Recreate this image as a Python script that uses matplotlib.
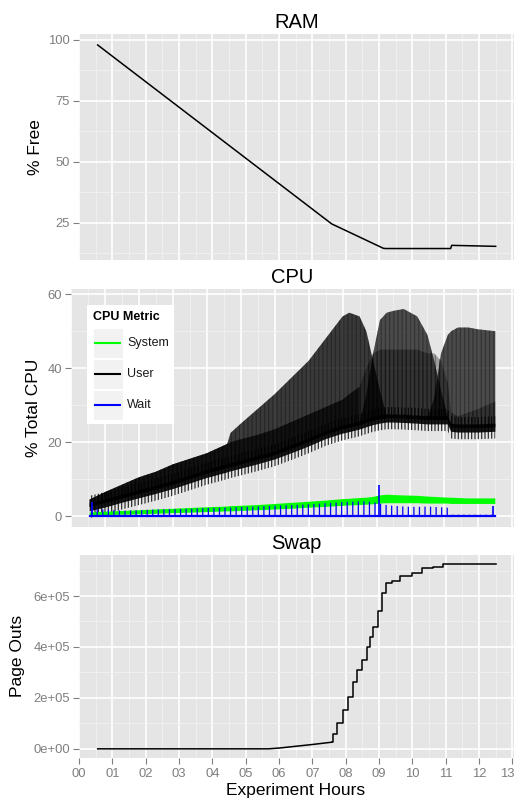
import numpy as np
import matplotlib.pyplot as plt
from matplotlib.patches import Rectangle
from matplotlib.lines import Line2D
from matplotlib.transforms import ScaledTranslation

plt.rcParams['font.family'] = ['Liberation Sans', 'DejaVu Sans']
plt.rcParams['hatch.linewidth'] = 0.9

# ---------------- data ----------------
hour_ticks = list(range(0, 14))
hour_labels = ["%02d" % h for h in hour_ticks]

# RAM: % free
ram_hours = [0.56, 7.58, 9.13, 9.2, 11.15, 11.18, 12.5]
ram_free = [97.9, 24.6, 14.6, 14.5, 14.5, 15.8, 15.4]

# Swap: page outs
swap_hours = [0.56, 5.68, 6.0, 6.5, 7.0, 7.58, 7.63, 7.73, 7.93, 8.08, 8.23,
              8.33, 8.48, 8.63, 8.73, 8.83, 8.98, 9.08, 9.21, 9.38, 9.63,
              9.98, 10.28, 10.63, 10.93, 12.5]
swap_pageouts = [0, 0, 0.03e5, 0.1e5, 0.17e5, 0.26e5, 0.6e5, 1.0e5, 1.53e5,
                 2.05e5, 2.64e5, 3.1e5, 3.5e5, 4.0e5, 4.4e5, 4.8e5, 5.4e5,
                 6.1e5, 6.5e5, 6.6e5, 6.8e5, 6.9e5, 7.1e5, 7.15e5, 7.25e5,
                 7.25e5]
swap_step_start = 5  # stair-like from 7.58 h on

# CPU: envelopes of the (very dense) traces
nan = np.nan
cpu_hours = [0.55, 1.0, 1.5, 2.0, 2.5, 3.0, 3.5, 4.0, 4.6, 4.7, 5.0, 5.5,
             6.0, 6.5, 7.0, 7.5, 8.0, 8.2, 8.5, 8.7, 8.9, 9.1, 9.3, 9.5,
             9.8, 10.2, 10.5, 10.7, 10.9, 11.1, 11.2, 11.4, 11.7, 12.0, 12.5]
user_core = [2.5, 3.5, 4.8, 6.0, 7.2, 8.5, 10.0, 11.5, 13.0, 13.3, 14.0, 15.2,
             16.5, 18.2, 20.0, 22.0, 23.5, 23.9, 24.6, 25.2, 25.8, 26.2, 26.5,
             26.5, 26.4, 26.2, 26.0, 26.0, 26.0, 26.0, 24.0, 23.8, 23.8, 23.8,
             24.0]
user_peak_a = [4.5, 6.5, 8.5, 10.5, 12.0, 14.0, 15.5, 17.0, 19.5, 22.5, 25.0,
               29.0, 33.0, 37.5, 42.0, 48.0, 54.0, 55.0, 54.0, 50.0, 42.0,
               34.0, 27.0, nan, nan, nan, nan, nan, nan, nan, nan, nan, nan,
               nan, nan]
user_peak_b = [nan, nan, nan, nan, nan, nan, nan, nan, nan, nan, nan, nan,
               nan, nan, nan, nan, nan, nan, 25.0, 33.0, 44.0, 53.0, 55.0,
               55.5, 56.0, 54.0, 49.0, 42.0, 34.0, 27.0, 24.5, nan, nan, nan,
               nan]
user_peak_c = [nan, nan, nan, nan, nan, nan, nan, nan, nan, nan, nan, nan,
               nan, nan, nan, nan, nan, nan, nan, nan, nan, nan, nan, nan,
               nan, nan, 26.5, 32.0, 44.0, 49.0, 50.0, 51.0, 51.0, 50.5, 50.0]
user_low_d = [4.5, 6.5, 8.5, 10.5, 12.0, 14.0, 15.5, 17.0, 19.5, 20.0, 20.8,
              22.0, 23.5, 25.5, 27.5, 29.5, 31.5, 33.0, 35.0, nan, nan, nan,
              nan, nan, nan, nan, nan, nan, nan, nan, nan, nan, nan, nan, nan]
user_faint = [nan, nan, nan, nan, nan, nan, nan, nan, nan, nan, nan, nan,
              nan, nan, nan, nan, nan, nan, 35.0, 40.0, 44.0, 45.0, 45.0,
              45.0, 45.0, 45.0, 44.0, 44.0, 42.0, 36.0, 28.0, 27.0, 28.0,
              29.0, 31.0]
sys_low = [0.2, 0.3, 0.4, 0.5, 0.65, 0.8, 0.95, 1.1, 1.3, 1.3, 1.4, 1.6, 1.8,
           2.0, 2.3, 2.5, 2.8, 2.9, 3.0, 3.1, 3.2, 3.4, 3.5, 3.5, 3.5, 3.5,
           3.4, 3.4, 3.4, 3.4, 3.3, 3.3, 3.3, 3.3, 3.3]
sys_high = [1.0, 1.2, 1.4, 1.6, 1.8, 2.0, 2.2, 2.4, 2.6, 2.7, 2.8, 3.0, 3.3,
            3.6, 3.9, 4.2, 4.6, 4.7, 4.9, 5.0, 5.2, 5.6, 5.8, 5.7, 5.6, 5.5,
            5.3, 5.2, 5.1, 5.0, 5.0, 4.9, 4.8, 4.8, 4.8]
wait_peak = [2.0, 1.8, 1.5, 1.6, 1.8, 1.9, 2.0, 2.2, 2.3, 2.3, 2.5, 2.6, 2.8,
             3.0, 3.2, 3.5, 3.8, 3.9, 4.0, 4.0, 3.8, 3.4, 3.0, 2.8, 2.6, 2.5,
             2.6, 2.5, 2.4, 2.3, 0.4, 0.4, 0.4, 0.4, 0.4]
wait_spike_hours = [0.61, 9.06, 12.42]
wait_spike_vals = [3.8, 8.5, 2.7]

legend_labels = ["System", "User", "Wait"]
legend_colors = ["#00FF00", "black", "#0000FF"]

# ---------------- figure ----------------
W, H = 515, 801
fig = plt.figure(figsize=(W / 100, H / 100), dpi=100)


def panel(left, top, right, bottom):
    return fig.add_axes([left / W, 1 - bottom / H, (right - left) / W,
                         (bottom - top) / H])


def style(ax, ymajor, yminor, ylim, ylabels, title, show_x=False):
    ax.set_facecolor("#E5E5E5")
    for s in ax.spines.values():
        s.set_visible(False)
    ax.set_xlim(0, 13.05)
    ax.set_ylim(*ylim)
    ax.set_xticks(hour_ticks)
    ax.set_xticks(np.arange(0.5, 13.5, 1.0), minor=True)
    ax.set_yticks(ymajor)
    ax.set_yticks(yminor, minor=True)
    ax.set_yticklabels(ylabels)
    ax.grid(which="major", color="white", lw=1.2)
    ax.grid(which="minor", color="#F2F2F2", lw=0.6)
    ax.set_axisbelow(True)
    ax.tick_params(which="minor", length=0)
    ax.tick_params(axis="y", which="major", length=4, width=0.8,
                   color="#7F7F7F", labelcolor="#7F7F7F", labelsize=9.4,
                   pad=2.5)
    if show_x:
        ax.set_xticklabels(hour_labels)
        ax.tick_params(axis="x", which="major", length=4, width=0.8,
                       color="#7F7F7F", labelcolor="#7F7F7F", labelsize=9.4,
                       pad=3)
    else:
        ax.tick_params(axis="x", which="major", length=0, labelbottom=False)
    ax.set_title(title, fontsize=14.5, pad=4.5)


# RAM
ax1 = panel(79, 34, 514, 260)
style(ax1, [25, 50, 75, 100], [12.5, 37.5, 62.5, 87.5], (9.8, 102.4),
      ["25", "50", "75", "100"], "RAM")
ax1.plot(ram_hours, ram_free, color="black", lw=1.1)
fig.text(35 / W, 1 - 147 / H, "% Free", rotation=90, ha="center",
         va="center", fontsize=12.5)

# CPU
ax2 = panel(71, 289, 514, 527)
style(ax2, [0, 20, 40, 60], [10, 30, 50], (-2.93, 61.4),
      ["0", "20", "40", "60"], "CPU")
core = np.array(user_core)
for peak, alpha in [(user_low_d, 0.7), (user_faint, 0.3),
                    (user_peak_a, 0.75), (user_peak_b, 0.68),
                    (user_peak_c, 0.68)]:
    ax2.fill_between(cpu_hours, core, peak, facecolor="black", alpha=alpha,
                     lw=0)
    ax2.fill_between(cpu_hours, core, peak, facecolor="none",
                     edgecolor=(0, 0, 0, 0.3), hatch="||||", lw=0)
ax2.fill_between(cpu_hours, core - 3.0, core + 3.0, facecolor="none",
                 edgecolor=(0, 0, 0, 0.8), hatch="|||||", lw=0)
ax2.fill_between(cpu_hours, core - 1.2, core + 1.0, facecolor="black",
                 alpha=0.9, lw=0)
ax2.fill_between(cpu_hours, sys_low, sys_high, facecolor="#00FF00", lw=0)
ax2.fill_between(cpu_hours, 0, wait_peak, facecolor="none",
                 edgecolor="#0000FF", hatch="|||", lw=0)
ax2.vlines(wait_spike_hours, 0, wait_spike_vals, color="#0000FF", lw=1.2)
ax2.plot([cpu_hours[0], cpu_hours[-1]], [0, 0], color="#0000FF", lw=1.6)
fig.text(33 / W, 1 - 408 / H, "% Total CPU", rotation=90, ha="center",
         va="center", fontsize=12.5)

# legend drawn ggplot style
aw, ah = 514 - 71, 527 - 289
fx = lambda px: (px - 71) / aw
fy = lambda py: (527 - py) / ah
tr = ax2.transAxes
ax2.add_patch(Rectangle((fx(87), fy(424)), fx(174) - fx(87),
                        fy(305) - fy(424), transform=tr, facecolor="white",
                        edgecolor="none", zorder=10))
ax2.text(fx(93), fy(317), "CPU Metric", transform=tr, fontsize=9,
         fontweight="bold", va="center", ha="left", zorder=11)
for i, (lab, col) in enumerate(zip(legend_labels, legend_colors)):
    yc = 343 + i * 30.8
    ax2.add_patch(Rectangle((fx(93), fy(yc + 15)), fx(123) - fx(93),
                            fy(yc - 15) - fy(yc + 15), transform=tr,
                            facecolor="#F2F2F2", edgecolor="white", lw=0.8,
                            zorder=11))
    ax2.add_line(Line2D([fx(95), fx(120)], [fy(yc), fy(yc)], transform=tr,
                        color=col, lw=1.5, zorder=12))
    ax2.text(fx(127), fy(yc), lab, transform=tr, fontsize=9, va="center",
             ha="left", color="#1A1A1A", zorder=12)

# Swap
ax3 = panel(79, 555, 514, 758)
style(ax3, [0, 2e5, 4e5, 6e5], [1e5, 3e5, 5e5, 7e5], (-0.36e5, 7.61e5),
      ["0e+00", "2e+05", "4e+05", "6e+05"], "Swap", show_x=True)
k = swap_step_start
ax3.plot(swap_hours[:k + 1], swap_pageouts[:k + 1], color="black", lw=1.1)
ax3.plot(swap_hours[k:], swap_pageouts[k:], color="black", lw=1.1,
         drawstyle="steps-post")
# the last hour label is at the right edge; nudge it inside the picture
last = ax3.get_xticklabels()[-1]
last.set_transform(last.get_transform()
                   + ScaledTranslation(-4 / 72, 0, fig.dpi_scale_trans))
fig.text(18 / W, 1 - 656 / H, "Page Outs", rotation=90, ha="center",
         va="center", fontsize=12.5)
fig.text(296 / W, 1 - 790 / H, "Experiment Hours", ha="center", va="center",
         fontsize=12.5)

fig.savefig("out.png", dpi=100, facecolor="white")
